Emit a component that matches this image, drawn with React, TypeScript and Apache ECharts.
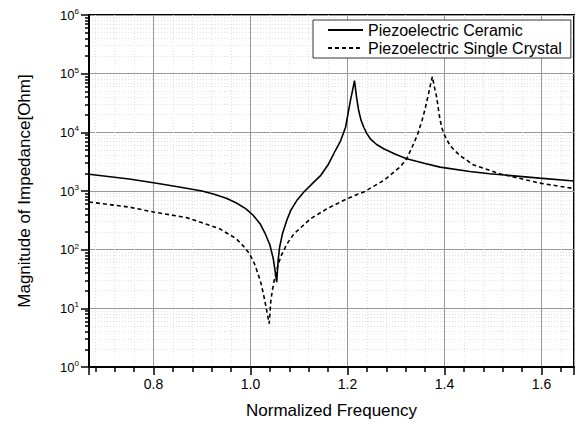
import React, { useEffect, useRef } from "react";
import * as echarts from "echarts";

const ceramicFreq = [0.667, 0.75, 0.8, 0.85, 0.9, 0.925, 0.95, 0.97, 0.99, 1.005, 1.02, 1.03, 1.04, 1.047, 1.051, 1.054, 1.057, 1.06, 1.066, 1.075, 1.083, 1.095, 1.11, 1.13, 1.145, 1.16, 1.175, 1.186, 1.196, 1.206, 1.21, 1.2144, 1.219, 1.223, 1.228, 1.2335, 1.24, 1.247, 1.26, 1.2745, 1.3, 1.322, 1.36, 1.391, 1.452, 1.493, 1.596, 1.667];
const ceramicZ = [1930, 1600, 1384, 1180, 1000, 880, 750, 630, 500, 390, 275, 190, 120, 70, 42, 28, 66, 110, 188, 320, 468, 680, 960, 1400, 1850, 2800, 4900, 7250, 12200, 34800, 50000, 76000, 38000, 23500, 16000, 12200, 9500, 7760, 6200, 5250, 4200, 3540, 2950, 2550, 2150, 1970, 1660, 1480];

const crystalFreq = [0.667, 0.75, 0.8, 0.868, 0.936, 0.97, 0.987, 0.9975, 1.008, 1.015, 1.0215, 1.027, 1.032, 1.036, 1.0385, 1.04, 1.042, 1.045, 1.049, 1.055, 1.062, 1.075, 1.09, 1.124, 1.158, 1.1995, 1.223, 1.2335, 1.2745, 1.309, 1.322, 1.336, 1.345, 1.3535, 1.36, 1.367, 1.371, 1.375, 1.379, 1.384, 1.389, 1.394, 1.4, 1.411, 1.42, 1.432, 1.445, 1.459, 1.514, 1.596, 1.667];
const crystalZ = [650, 532, 438, 352, 228, 155, 111, 86, 58, 40, 27, 17, 10.6, 7, 5.5, 8, 13.8, 20, 30, 48, 75, 125, 188, 338, 500, 741, 893, 960, 1510, 2600, 3540, 6300, 9500, 15800, 25000, 45200, 65000, 89000, 60000, 39500, 20000, 12200, 9000, 6000, 5000, 4000, 3400, 2800, 1970, 1365, 1100];

const seriesNames = ["Piezoelectric Ceramic", "Piezoelectric Single Crystal"];
const xTitle = "Normalized Frequency";
const yTitle = "Magnitude of Impedance[Ohm]";

const FONT = "'Liberation Sans', Arial, sans-serif";

export default function App() {
  const ref = useRef<HTMLDivElement>(null);
  useEffect(() => {
    if (!ref.current) return;
    const chart = echarts.init(ref.current, undefined, { renderer: "svg" });
    const pairs = (xs: number[], ys: number[]) => xs.map((x, i) => [x, ys[i]]);
    chart.setOption({
      animation: false,
      backgroundColor: "#fff",
      textStyle: { fontFamily: FONT },
      grid: {
        left: 89,
        right: 4,
        top: 15,
        bottom: 58,
        show: true,
        borderColor: "#000",
        borderWidth: 2,
        backgroundColor: "transparent",
      },
      legend: {
        orient: "vertical",
        left: 313,
        top: 20,
        backgroundColor: "#fff",
        borderColor: "#333",
        borderWidth: 1,
        borderRadius: 0,
        padding: [2, 9, 2, 14],
        itemWidth: 35,
        itemHeight: 14,
        itemGap: 2,
        itemStyle: { color: "transparent", borderWidth: 0, opacity: 0 },
        textStyle: { fontSize: 16, color: "#000", fontFamily: FONT },
        data: seriesNames,
      },
      xAxis: {
        type: "value",
        min: 0.667,
        max: 1.667,
        splitNumber: 5,
        name: xTitle,
        nameLocation: "middle",
        nameGap: 35,
        nameTextStyle: { fontSize: 17, color: "#000", fontFamily: FONT },
        axisLine: { show: true, onZero: false, lineStyle: { color: "#000", width: 2 } },
        axisTick: { show: true, inside: false, length: 8, lineStyle: { color: "#000", width: 1.5 } },
        minorTick: { show: true, splitNumber: 5, length: 5, lineStyle: { color: "#000", width: 1.5 } },
        axisLabel: {
          fontSize: 14,
          color: "#000",
          margin: 10,
          showMinLabel: false,
          showMaxLabel: false,
          formatter: (v: number) => v.toFixed(1),
        },
        splitLine: { show: true, lineStyle: { color: "#999", width: 1 } },
        minorSplitLine: { show: true, lineStyle: { color: "#e2e2e2", width: 1, type: [1, 2] } },
      },
      yAxis: {
        type: "log",
        logBase: 10,
        min: 1,
        max: 1000000,
        splitNumber: 6,
        name: yTitle,
        nameLocation: "middle",
        nameGap: 56,
        nameTextStyle: { fontSize: 17, color: "#000", fontFamily: FONT },
        axisLine: { show: true, onZero: false, lineStyle: { color: "#000", width: 2 } },
        axisTick: { show: true, inside: false, length: 8, lineStyle: { color: "#000", width: 1.5 } },
        minorTick: { show: true, splitNumber: 9, length: 4, lineStyle: { color: "#000", width: 1.5 } },
        axisLabel: {
          fontSize: 13,
          color: "#000",
          margin: 10,
          formatter: (v: number) => `10{sup|${Math.round(Math.log10(v))}}`,
          rich: {
            sup: { fontSize: 8, verticalAlign: "top", padding: [0, 0, 7, 0], color: "#000" },
          },
        },
        splitLine: { show: true, lineStyle: { color: "#999", width: 1 } },
        minorSplitLine: { show: true, lineStyle: { color: "#e2e2e2", width: 1, type: [1, 2] } },
      },
      series: [
        {
          name: seriesNames[0],
          type: "line",
          data: pairs(ceramicFreq, ceramicZ),
          symbol: "none",
          smooth: false,
          lineStyle: { color: "#000", width: 1.6, type: "solid" },
          itemStyle: { color: "#000" },
          z: 5,
        },
        {
          name: seriesNames[1],
          type: "line",
          data: pairs(crystalFreq, crystalZ),
          symbol: "none",
          smooth: false,
          lineStyle: { color: "#000", width: 1.6, type: [4, 3] },
          itemStyle: { color: "#000" },
          z: 5,
        },
      ],
    });
    return () => chart.dispose();
  }, []);
  return <div ref={ref} style={{ position: "fixed", left: 0, top: 0, width: 578, height: 425 }} />;
}
